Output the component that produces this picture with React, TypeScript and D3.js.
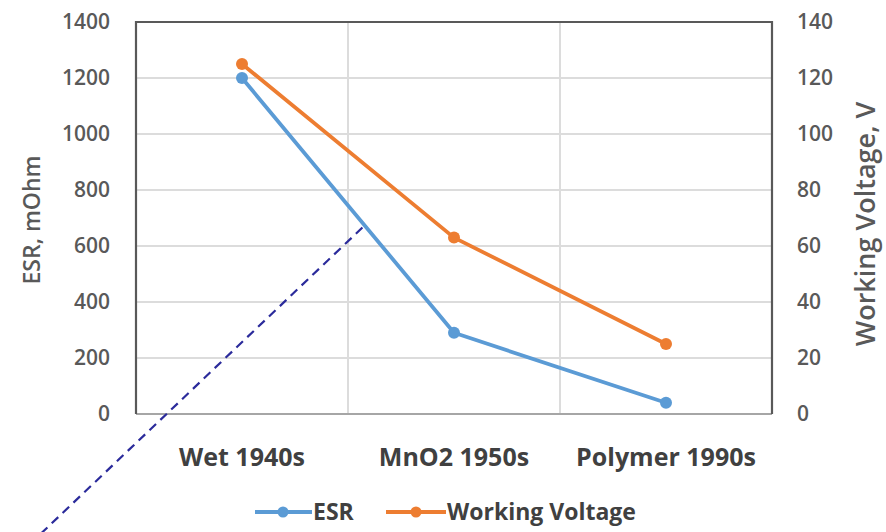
import React from "react";
import * as d3 from "d3";

const categories = ["Wet 1940s", "MnO2 1950s", "Polymer 1990s"];
const esrValues = [1200, 290, 40];
const voltageValues = [125, 63, 25];
const leftTicks = [0, 200, 400, 600, 800, 1000, 1200, 1400];
const rightTicks = [0, 20, 40, 60, 80, 100, 120, 140];
const seriesNames = ["ESR", "Working Voltage"];

const W = 886;
const H = 532;
const plot = { left: 136, right: 772, top: 22, bottom: 414 };
const BLUE = "#5b9bd5";
const ORANGE = "#ed7d31";
const TEXT = "#595959";
const FONT = "'Open Sans', 'Liberation Sans', sans-serif";

export default function App() {
  const x = d3.scaleBand<string>().domain(categories).range([plot.left, plot.right]);
  const yL = d3.scaleLinear().domain([0, 1400]).range([plot.bottom, plot.top]);
  const yR = d3.scaleLinear().domain([0, 140]).range([plot.bottom, plot.top]);
  const cx = (c: string) => (x(c) ?? 0) + x.bandwidth() / 2;

  const esrLine = d3.line<number>().x((_, i) => cx(categories[i])).y((v) => yL(v));
  const vLine = d3.line<number>().x((_, i) => cx(categories[i])).y((v) => yR(v));

  // annotation pointer: dashed leader coming in from the lower left
  const pointer = d3.line()([[30, 544], [364, 226]]);

  return (
    <svg width={W} height={H} style={{ position: "absolute", left: 0, top: 0, background: "#fff" }}>
      <rect x={0} y={0} width={W} height={H} fill="#fff" />
      {/* horizontal gridlines */}
      {leftTicks.map((t) => (
        <line key={"h" + t} x1={plot.left} x2={plot.right} y1={yL(t)} y2={yL(t)} stroke="#dcdcdc" strokeWidth={2} />
      ))}
      {/* vertical gridlines between categories */}
      {categories.slice(1).map((c) => (
        <line key={"v" + c} x1={x(c)} x2={x(c)} y1={plot.top} y2={plot.bottom} stroke="#dcdcdc" strokeWidth={2} />
      ))}
      {/* frame */}
      <line x1={plot.left} x2={plot.right} y1={plot.bottom} y2={plot.bottom} stroke="#a6a6a6" strokeWidth={2} />
      <path
        d={`M${plot.left},${plot.bottom}V${plot.top}H${plot.right}V${plot.bottom}`}
        fill="none"
        stroke="#595959"
        strokeWidth={2.2}
      />
      {/* left ticks */}
      {leftTicks.map((t) => (
        <text key={"l" + t} x={110} y={yL(t)} dy="0.35em" textAnchor="end" fontSize={21} fontWeight={600} fill={TEXT} fontFamily={FONT}>
          {t}
        </text>
      ))}
      {/* right ticks */}
      {rightTicks.map((t) => (
        <text key={"r" + t} x={797} y={yR(t)} dy="0.35em" textAnchor="start" fontSize={21} fontWeight={600} fill={TEXT} fontFamily={FONT}>
          {t}
        </text>
      ))}
      {/* axis titles */}
      <text transform="translate(32,220) rotate(-90)" textAnchor="middle" dy="0.35em" fontSize={23} fontWeight={600} fill={TEXT} fontFamily={FONT}>
        ESR, mOhm
      </text>
      <text transform="translate(866,224) rotate(-90)" textAnchor="middle" dy="0.35em" fontSize={27} fontWeight={600} fill={TEXT} fontFamily={FONT}>
        Working Voltage, V
      </text>
      {/* category labels */}
      {categories.map((c) => (
        <text key={c} x={cx(c)} y={457} dy="0.35em" textAnchor="middle" fontSize={25} fontWeight={700} fill="#404040" fontFamily={FONT}>
          {c}
        </text>
      ))}
      {/* series */}
      <path d={esrLine(esrValues) ?? ""} fill="none" stroke={BLUE} strokeWidth={3.8} strokeLinejoin="round" />
      <path d={vLine(voltageValues) ?? ""} fill="none" stroke={ORANGE} strokeWidth={3.8} strokeLinejoin="round" />
      {esrValues.map((v, i) => (
        <circle key={"e" + i} cx={cx(categories[i])} cy={yL(v)} r={6} fill={BLUE} />
      ))}
      {voltageValues.map((v, i) => (
        <circle key={"w" + i} cx={cx(categories[i])} cy={yR(v)} r={6} fill={ORANGE} />
      ))}
      {/* legend */}
      <g fontFamily={FONT} fontSize={23} fontWeight={700} fill="#404040">
        <line x1={255} x2={312} y1={512} y2={512} stroke={BLUE} strokeWidth={3.8} />
        <circle cx={283} cy={512} r={5.5} fill={BLUE} />
        <text x={313} y={512} dy="0.35em">{seriesNames[0]}</text>
        <line x1={386} x2={446} y1={512} y2={512} stroke={ORANGE} strokeWidth={3.8} />
        <circle cx={416} cy={512} r={5.5} fill={ORANGE} />
        <text x={447} y={512} dy="0.35em">{seriesNames[1]}</text>
      </g>
      {/* dashed pointer */}
      <path d={pointer ?? ""} fill="none" stroke="#2b2b9b" strokeWidth={2.2} strokeDasharray="9 6" />
    </svg>
  );
}
